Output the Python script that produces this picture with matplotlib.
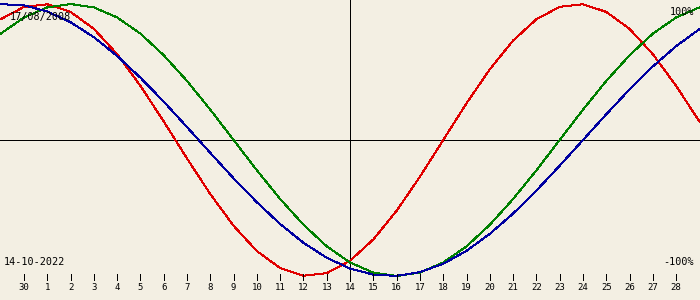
import matplotlib.pyplot as plt

# biorhythm values (%) read at each day, from 29 Sep (-1) to 29 Oct (29)
days = list(range(-1, 30))
day_labels = ["30"] + [str(i) for i in range(1, 29)]
tick_days = list(range(0, 29))

physical = [88.8, 97.9, 99.8, 94.2, 81.7, 63.1, 39.8, 13.6, -13.6, -39.8,
            -63.1, -81.7, -94.2, -99.8, -97.9, -88.8, -73.1, -52.0, -27.0, 0.0,
            27.0, 52.0, 73.1, 88.8, 97.9, 99.8, 94.2, 81.7, 63.1, 39.8, 13.6]
emotional = [78.2, 90.1, 97.5, 100.0, 97.5, 90.1, 78.2, 62.3, 43.4, 22.3,
             0.0, -22.3, -43.4, -62.3, -78.2, -90.1, -97.5, -100.0, -97.5, -90.1,
             -78.2, -62.3, -43.4, -22.3, 0.0, 22.3, 43.4, 62.3, 78.2, 90.1, 97.5]
intellectual = [99.9, 99.0, 94.5, 86.6, 75.6, 61.8, 45.8, 28.2, 9.5, -9.5,
                -28.2, -45.8, -61.8, -75.6, -86.6, -94.5, -99.0, -99.9, -97.2, -91.0,
                -81.5, -69.0, -54.1, -37.2, -18.9, 0.0, 18.9, 37.2, 54.1, 69.0, 81.5]

birth_text = "17/08/2008"
date_text = "14-10-2022"
today = 14

BG = "#f3efe3"
PX_DAY = 23.29   # pixels per day
PX_PCT = 1.36    # pixels per percent
LW = 0.72        # one pixel


def px(x):
    # horizontal pixel -> day
    return (x - 24) / PX_DAY


def py(y):
    # vertical pixel (from top) -> percent
    return (140 - y) / PX_PCT


fig = plt.figure(figsize=(7, 3), dpi=100, facecolor=BG)
ax = fig.add_axes([0, 0, 1, 1])
ax.set_facecolor(BG)
ax.set_xlim(px(0), px(700))
ax.set_ylim(py(300), py(0))
ax.axis("off")

mono = "DejaVu Sans Mono"

# cross lines
ax.axhline(0, color="black", lw=LW, antialiased=False)
ax.vlines(today, py(281), py(0), color="black", lw=LW, antialiased=False)

# curves
for vals, col in [(physical, "#e00000"), (emotional, "#008000"), (intellectual, "#0000a0")]:
    ax.plot(days, vals, color=col, lw=LW, antialiased=False)

# day ticks and labels
ax.vlines(tick_days, py(280), py(274), color="black", lw=LW, antialiased=False)
for d, lab in zip(tick_days, day_labels):
    ax.text(d, py(288), lab, ha="center", va="center", fontsize=6.5, family=mono)

# corner texts
ax.text(px(10), py(17), birth_text, ha="left", va="center", fontsize=7.3, family=mono)
ax.text(px(4), py(262), date_text, ha="left", va="center", fontsize=7.3, family=mono)
ax.text(px(694), py(12), "100%", ha="right", va="center", fontsize=7.3, family=mono)
ax.text(px(694), py(262), "-100%", ha="right", va="center", fontsize=7.3, family=mono)

fig.savefig("out.png", dpi=100, facecolor=BG)
